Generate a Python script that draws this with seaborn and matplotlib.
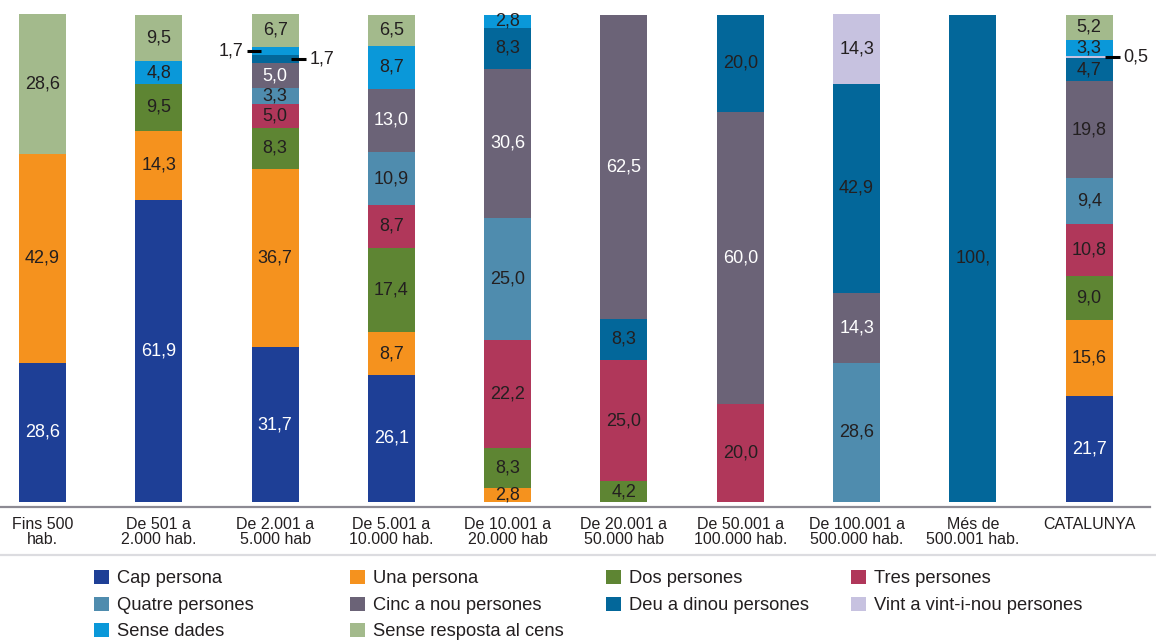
import numpy as np
import pandas as pd
import matplotlib
matplotlib.use("Agg")
import matplotlib.pyplot as plt
from matplotlib.patches import Patch
from matplotlib.lines import Line2D
import seaborn as sns

# Dades del gràfic
groups = ["Fins 500\nhab.", "De 501 a\n2.000 hab.", "De 2.001 a\n5.000 hab",
          "De 5.001 a\n10.000 hab.", "De 10.001 a\n20.000 hab", "De 20.001 a\n50.000 hab",
          "De 50.001 a\n100.000 hab.", "De 100.001 a\n500.000 hab.", "Més de\n500.001 hab.",
          "CATALUNYA"]

categories = ["Cap persona", "Una persona", "Dos persones", "Tres persones",
              "Quatre persones", "Cinc a nou persones", "Deu a dinou persones",
              "Vint a vint-i-nou persones", "Sense dades", "Sense resposta al cens"]

cap = [28.6, 61.9, 31.7, 26.1, 0, 0, 0, 0, 0, 21.7]
una = [42.9, 14.3, 36.7, 8.7, 2.8, 0, 0, 0, 0, 15.6]
dos = [0, 9.5, 8.3, 17.4, 8.3, 4.2, 0, 0, 0, 9.0]
tres = [0, 0, 5.0, 8.7, 22.2, 25.0, 20.0, 0, 0, 10.8]
quatre = [0, 0, 3.3, 10.9, 25.0, 0, 0, 28.6, 0, 9.4]
cinc = [0, 0, 5.0, 13.0, 30.6, 62.5, 60.0, 14.3, 0, 19.8]
deu = [0, 0, 1.7, 0, 8.3, 8.3, 20.0, 42.9, 100.0, 4.7]
vint = [0, 0, 0, 0, 0, 0, 0, 14.3, 0, 0.5]
sense_dades = [0, 4.8, 1.7, 8.7, 2.8, 0, 0, 0, 0, 3.3]
sense_resposta = [28.6, 9.5, 6.7, 6.5, 0, 0, 0, 0, 0, 5.2]

colors = ["#1e3f96", "#f5921e", "#5e8533", "#b0375a", "#4f8cae",
          "#6b6377", "#03679a", "#c7c2e0", "#0a98d9", "#a3ba8c"]

values = pd.DataFrame(
    [cap, una, dos, tres, quatre, cinc, deu, vint, sense_dades, sense_resposta],
    index=categories, columns=groups)

# en aquest tram el segment "Deu a dinou" va per sota de "Cinc a nou"
stack_override = {"De 20.001 a\n50.000 hab": ["Cap persona", "Una persona", "Dos persones",
                                               "Tres persones", "Quatre persones",
                                               "Deu a dinou persones", "Cinc a nou persones",
                                               "Vint a vint-i-nou persones", "Sense dades",
                                               "Sense resposta al cens"]}

white_labels = ["Cap persona", "Cinc a nou persones"]
dark_exceptions = [("CATALUNYA", "Cinc a nou persones")]
outside_labels = [("De 2.001 a\n5.000 hab", "Sense dades", "left"),
                  ("De 2.001 a\n5.000 hab", "Deu a dinou persones", "right"),
                  ("CATALUNYA", "Vint a vint-i-nou persones", "right")]

# bases de cada segment
bottoms = pd.DataFrame(0.0, index=categories, columns=groups)
for g in groups:
    order = stack_override.get(g, categories)
    acc = 0.0
    for c in order:
        bottoms.loc[c, g] = acc
        acc += values.loc[c, g]

sns.set_theme(style="white")
plt.rcParams["font.family"] = ["Liberation Sans", "DejaVu Sans"]
text_dark = "#231f20"

fig = plt.figure(figsize=(11.56, 6.42), dpi=100)
ax = fig.add_axes([0, 0.2103, 1150 / 1156, 0.7897])

bar_w = 0.404
for c, col in zip(categories, colors):
    sns.barplot(x=groups, y=values.loc[c].values, bottom=bottoms.loc[c].values,
                order=groups, color=col, width=bar_w, errorbar=None,
                saturation=1, linewidth=0, ax=ax)

def fmt(v):
    return f"{v:.1f}"[:4].replace(".", ",")

skip = [(g, c) for g, c, _ in outside_labels]
for i, g in enumerate(groups):
    for c in categories:
        v = values.loc[c, g]
        if v <= 0 or (g, c) in skip:
            continue
        y = bottoms.loc[c, g] + v / 2
        tc = "white" if (c in white_labels and (g, c) not in dark_exceptions) else text_dark
        ax.text(i, y, fmt(v), ha="center", va="center", fontsize=13, color=tc)

# etiquetes fora de la barra amb línia guia
px = 1 / 116.3
for g, c, side in outside_labels:
    i = groups.index(g)
    v = values.loc[c, g]
    y = bottoms.loc[c, g] + v / 2
    if side == "left":
        x0 = i - bar_w / 2 - 5 * px
        x1 = i - bar_w / 2 + 9 * px
        ax.plot([x0, x1], [y, y], color="black", lw=2.2, solid_capstyle="butt")
        ax.text(x0 - 3 * px, y, fmt(v), ha="right", va="center", fontsize=13, color=text_dark)
    else:
        x0 = i + bar_w / 2 - 8 * px
        x1 = i + bar_w / 2 + 7 * px
        ax.plot([x0, x1], [y, y], color="black", lw=2.2, solid_capstyle="butt")
        ax.text(x1 + 4 * px, y, fmt(v), ha="left", va="center", fontsize=13, color=text_dark)

ax.set_xlim(-0.3654, 9.523)
ax.set_ylim(-1.03, 103)
ax.set_yticks([])
ax.set_xlabel("")
ax.set_ylabel("")
for s in ["top", "left", "right"]:
    ax.spines[s].set_visible(False)
ax.spines["bottom"].set_color("#8c8a93")
ax.spines["bottom"].set_linewidth(1.6)
ax.tick_params(axis="x", length=0, pad=7, labelsize=11.5, labelcolor=text_dark)
for lab in ax.get_xticklabels():
    lab.set_linespacing(1.05)
ax.patch.set_alpha(0)

# línia separadora de la llegenda
fig.add_artist(Line2D([0, 1], [1 - 555 / 642, 1 - 555 / 642], color="#dcdce0", lw=1.6))

# llegenda en quatre columnes fixes
handles = [Patch(facecolor=col, edgecolor="none", label=c) for c, col in zip(categories, colors)]
col_items = [[0, 4, 8], [1, 5, 9], [2, 6], [3, 7]]
col_x = [94 / 1156, 350 / 1156, 606 / 1156, 851 / 1156]
for items, x in zip(col_items, col_x):
    fig.legend(handles=[handles[k] for k in items], loc="upper left",
               bbox_to_anchor=(x, 1 - 570 / 642), frameon=False, fontsize=13.2,
               borderpad=0, borderaxespad=0, handlelength=0.8, handleheight=0.8,
               handletextpad=0.45, labelspacing=0.5, labelcolor=text_dark)

fig.savefig("out.png", dpi=100)
